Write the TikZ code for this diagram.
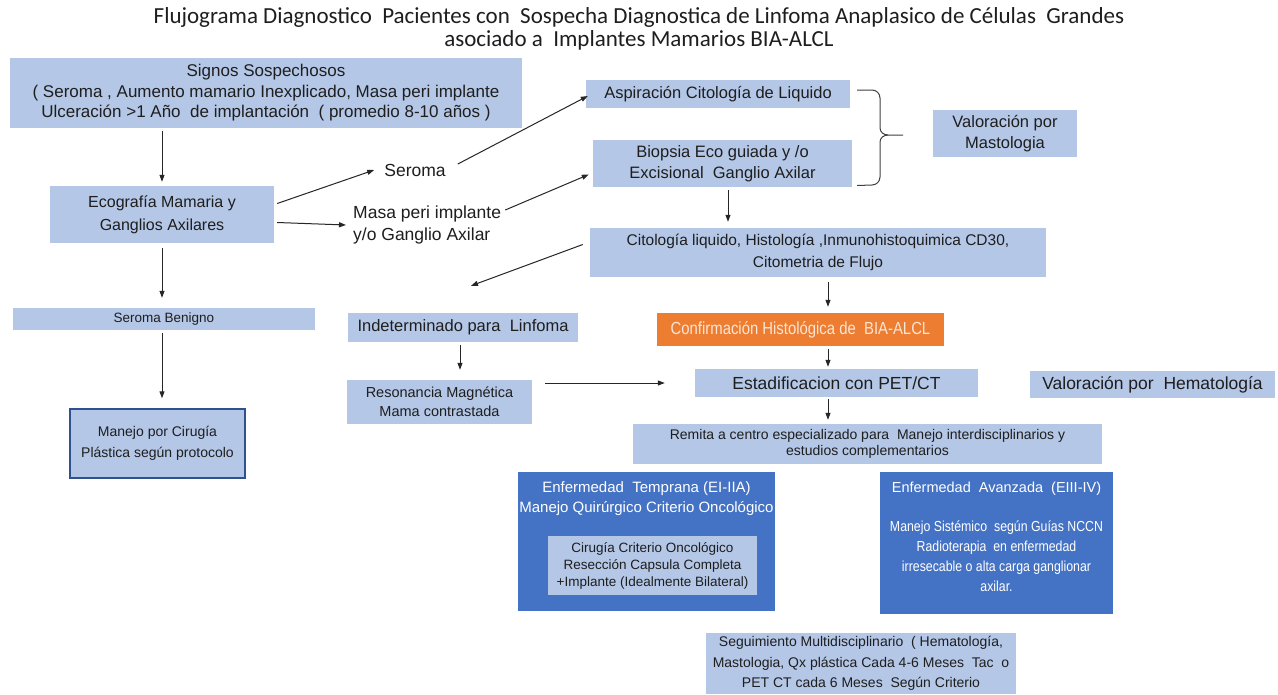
\documentclass[tikz,border=0pt]{standalone}
\usepackage{fontspec}
\setmainfont{Liberation Sans}
\newfontfamily\bodyfont{Liberation Sans}
\newfontfamily\narrowfont{Liberation Sans}[FakeStretch=0.85]
\newfontfamily\titlefont{Carlito}
\usetikzlibrary{arrows.meta,calc}
\definecolor{lblue}{RGB}{180,199,231}
\definecolor{dblue}{RGB}{68,114,196}
\definecolor{borange}{RGB}{237,125,49}
\definecolor{peach}{RGB}{251,229,214}
\definecolor{navy}{RGB}{47,82,143}
\definecolor{txt}{RGB}{30,30,30}
\begin{document}
\begin{tikzpicture}[x=1pt,y=-1pt,
  box/.style={rectangle,fill=lblue,inner sep=0pt,align=center,text=txt,font=\bodyfont\fontsize{16.5}{21}\selectfont},
  dbox/.style={rectangle,fill=dblue,inner sep=0pt,align=center,text=white,font=\bodyfont\fontsize{15}{20}\selectfont},
  plain/.style={inner sep=0pt,text=txt,font=\bodyfont\fontsize{17.5}{22}\selectfont},
  arr/.style={draw=black!85,line width=1pt,-{Triangle[length=7pt,width=5pt]}}]
\useasboundingbox (0,0) rectangle (1278,694);
\fill[white] (0,0) rectangle (1278,694);
% title
\node[inner sep=0pt,align=center,font=\titlefont\fontsize{23}{23}\selectfont,text=txt] (title) at (639,29)
 {Flujograma Diagnostico\ \ Pacientes con\ \ Sospecha Diagnostica de Linfoma Anaplasico de Células\ \ Grandes\\asociado a\ \ Implantes Mamarios BIA-ALCL};
% boxes
\node[box,minimum width=512pt,minimum height=70pt,font=\bodyfont\fontsize{17}{20.5}\selectfont] (signos) at (266,93)
 {Signos Sospechosos\\( Seroma , Aumento mamario Inexplicado, Masa peri implante\\Ulceración >1 Año\ \ de implantación\ \ ( promedio 8-10 años )};
\node[box,minimum width=224pt,minimum height=57pt,font=\bodyfont\fontsize{16}{23}\selectfont] (eco) at (162,214.5) {Ecografía Mamaria y\\Ganglios Axilares};
\node[plain] (seroma) at (415,170) {Seroma};
\node[plain,anchor=west,align=left] (masa) at (353,225) {Masa peri implante\\y/o Ganglio Axilar};
\node[box,minimum width=264pt,minimum height=28pt] (asp) at (718,94) {Aspiración Citología de Liquido};
\node[box,minimum width=259pt,minimum height=47pt] (bio) at (722.5,163.5) {Biopsia Eco guiada y /o\\Excisional\ \ Ganglio Axilar};
\node[box,minimum width=144pt,minimum height=47pt] (valmast) at (1005,133.5) {Valoración por\\Mastologia};
\node[box,minimum width=456pt,minimum height=49pt,font=\bodyfont\fontsize{15.5}{22}\selectfont] (cito) at (818,252.5) {Citología liquido, Histología ,Inmunohistoquimica CD30,\\Citometria de Flujo};
\node[rectangle,fill=borange,inner sep=0pt,minimum width=287pt,minimum height=33pt,text=peach,font=\narrowfont\fontsize{17.5}{20}\selectfont] (conf) at (800.5,329.5) {Confirmación Histológica de\ \ BIA-ALCL};
\node[box,minimum width=230pt,minimum height=29pt] (indet) at (463,327.5) {Indeterminado para\ \ Linfoma};
\node[box,minimum width=185pt,minimum height=44pt,font=\bodyfont\fontsize{14.5}{19}\selectfont] (reso) at (439.5,402) {Resonancia Magnética\\Mama contrastada};
\node[box,minimum width=283pt,minimum height=28pt,font=\bodyfont\fontsize{17.5}{20}\selectfont] (estad) at (836.5,383) {Estadificacion con PET/CT};
\node[box,minimum width=245pt,minimum height=27pt,font=\bodyfont\fontsize{17.5}{20}\selectfont] (valhem) at (1152.5,384.5) {Valoración por\ \ Hematología};
\node[box,minimum width=469pt,minimum height=40pt,font=\bodyfont\fontsize{14}{16}\selectfont] (remita) at (867.5,444) {Remita a centro especializado para\ \ Manejo interdisciplinarios y\\estudios complementarios};
\node[dbox,minimum width=257pt,minimum height=139pt] (temp) at (646.5,541.5) {};
\node[dbox,anchor=north,minimum width=0pt,minimum height=0pt] (temptxt) at (646.5,481) {Enfermedad\ \ Temprana (EI-IIA)\\Manejo Quirúrgico Criterio Oncológico};
\node[box,minimum width=209pt,minimum height=59pt,font=\bodyfont\fontsize{13.5}{17}\selectfont] (inner) at (652.5,565.5) {Cirugía Criterio Oncológico\\Resección Capsula Completa\\+Implante (Idealmente Bilateral)};
\node[dbox,minimum width=233pt,minimum height=142pt] (avanz) at (996.5,543) {};
\node[dbox,anchor=north,minimum width=0pt,minimum height=0pt,font=\bodyfont\fontsize{14.5}{20}\selectfont] (avanztxt) at (996.5,482) {Enfermedad\ \ Avanzada\ \ (EIII-IV)};
\node[dbox,anchor=north,minimum width=0pt,minimum height=0pt,font=\narrowfont\fontsize{14.5}{20}\selectfont] (avanzbody) at (996.5,521) {Manejo Sistémico\ \ según Guías NCCN\\Radioterapia\ \ en enfermedad\\irresecable o alta carga ganglionar\\axilar.};
\node[box,minimum width=310pt,minimum height=61pt,font=\bodyfont\fontsize{14}{20.5}\selectfont] (seg) at (861,663.5) {Seguimiento Multidisciplinario\ \ ( Hematología,\\Mastologia, Qx plástica Cada 4-6 Meses\ \ Tac\ \ o\\PET CT cada 6 Meses\ \ Según Criterio};
\node[box,minimum width=302pt,minimum height=22pt,font=\bodyfont\fontsize{13.5}{16}\selectfont] (benigno) at (164,319) {Seroma Benigno};
\node[box,draw=navy,line width=1.5pt,minimum width=175pt,minimum height=69pt,font=\bodyfont\fontsize{14}{21}\selectfont] (manejo) at (157.5,443.5) {Manejo por Cirugía\\Plástica según protocolo};
% brace
\draw[black!75,line width=1pt] ($(asp.east)+(7,-4)$) -- (872,90) to[out=0,in=90] (880,98) -- (880,128) to[out=-90,in=180] (888,135) -- (903,135);
\draw[black!75,line width=1pt] ($(bio.east)+(5,22)$) -- (872,185) to[out=0,in=-90] (880,177) -- (880,142) to[out=90,in=180] (888,135);
% arrows
\draw[arr] (eco.north |- signos.south) ++(0,3) -- ($(eco.north)+(0,-4)$);
\draw[arr] ($(eco.east)+(3,-11)$) -- ($(seroma.west)+(-10,0)$);
\draw[arr] ($(eco.east)+(3,8)$) -- ($(masa.west)+(-7,0)$);
\draw[arr] ($(seroma.east)+(12,-6)$) -- ($(asp.west)+(2,2)$);
\draw[arr] ($(masa.east)+(4,-15)$) -- ($(bio.west)+(-4,11)$);
\draw[arr] ($(bio.south)+(5.5,3)$) -- ($(cito.north -| bio.south)+(5.5,-6)$);
\draw[arr] ($(cito.west)+(-7,-8)$) -- ($(indet.north)+(8,-27)$);
\draw[arr] ($(cito.south)+(10,5)$) -- ($(conf.north)+(27.5,-6)$);
\draw[arr] ($(conf.south)+(27.5,3)$) -- ($(estad.north)+(-8.5,-2)$);
\draw[arr] ($(indet.south)+(-3,3)$) -- ($(reso.north)+(20.5,-10)$);
\draw[arr] ($(reso.east)+(13,-19)$) -- ($(estad.west)+(-30,0)$);
\draw[arr] ($(estad.south)+(-8.5,2)$) -- ($(remita.north)+(-39.5,-4)$);
\draw[arr] ($(eco.south)+(0,5)$) -- ($(benigno.north)+(-2,-10)$);
\draw[arr] ($(benigno.south)+(-2,3)$) -- ($(manejo.north)+(4.5,-10)$);
\end{tikzpicture}
\end{document}
